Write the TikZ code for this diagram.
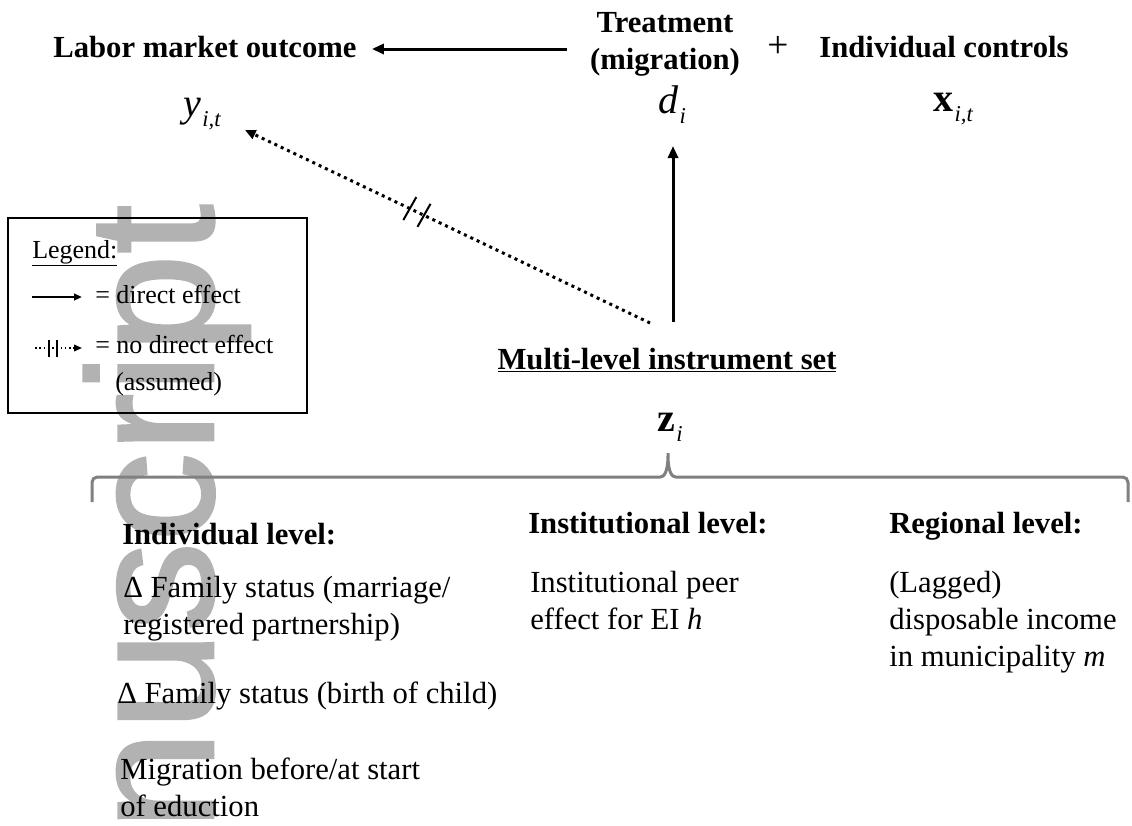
\documentclass[tikz,border=0pt]{standalone}
\usepackage{fontspec}
\setmainfont{Liberation Serif}
\setsansfont{Liberation Sans}
\newfontfamily\wmfont[FakeBold=1.4]{Liberation Sans}
\usetikzlibrary{arrows.meta,calc}
\definecolor{wmgray}{gray}{0.70}
\definecolor{bracegray}{gray}{0.50}
\newcommand\bigf{\fontsize{23}{27.75}\selectfont}
\newcommand\legf{\fontsize{19.5}{27.75}\selectfont}
\newcommand\varf{\fontsize{30}{32}\selectfont}
\newcommand\subf{\fontsize{17}{18}\selectfont}
\newcommand\lnsl[1]{\begin{tabular}[t]{@{}l@{}}#1\end{tabular}}
\newcommand\lnsc[1]{\begin{tabular}[t]{@{}c@{}}#1\end{tabular}}
\newcommand\sbs[1]{\kern1pt\raisebox{-8pt}{\normalfont\subf\itshape #1}}
\begin{document}
\begin{tikzpicture}[x=0.75pt,y=-0.75pt,
  txt/.style={inner sep=0pt,font=\bigf},
  btxt/.style={inner sep=0pt,font=\bfseries\bigf},
  ltxt/.style={inner sep=0pt,font=\legf},
  var/.style={inner sep=0pt,font=\varf},
  arr/.style={line width=2.25pt,-{Triangle[length=9pt,width=7.5pt]}},
  dotarr/.style={line width=2.25pt,dash pattern=on 2.25pt off 3pt,-{Triangle[length=8pt,width=7pt]}},
  legarr/.style={line width=1.5pt,-{Triangle[length=6pt,width=5pt]}},
  legdot/.style={line width=1.2pt,dash pattern=on 1.2pt off 2pt,-{Triangle[length=6pt,width=5pt]}},
  slash/.style={line width=1.5pt},
  brace/.style={line width=2.25pt,draw=bracegray,rounded corners=4pt},
]
\useasboundingbox (0,0) rectangle (1132,825);
% watermark
\begin{scope}
\clip (0,0) rectangle (1132,825);
\node[anchor=base east, rotate=90, inner sep=0pt, text=wmgray,
  font=\wmfont\fontsize{134}{134}\selectfont] (wm) at (213,204) {manuscript};
\end{scope}

% top row
\node[btxt,anchor=base] (labor) at (205,57) {Labor market outcome};
\node[btxt,anchor=base] (treat) at (665,32) {\lnsc{Treatment\\(migration)}};
\node[inner sep=0pt,font=\fontsize{28}{30}\selectfont] (plus) at (778,47) {+};
\node[btxt,anchor=base] (ctrl) at (944,57) {Individual controls};

\node[var,anchor=base west] (yv) at (183,116) {\itshape y\sbs{i,t}};
\node[var,anchor=base west] (dv) at (658,113) {\itshape d\sbs{i}};
\node[var,anchor=base west] (xv) at (933,111) {\bfseries x\sbs{i,t}};

% instrument set
\node[btxt,anchor=base] (title) at (667,369) {\underline{Multi-level instrument set}};
\node[var,anchor=base west] (zv) at (657,431) {\bfseries z\sbs{i}};

% connectors
\draw[arr] ($(treat.base west)+(-23,17)$) -- ($(labor.base east)+(15,-8)$);
\coordinate (vs) at ($(title.base)+(6,-47)$);
\draw[arr,shorten >=24.75pt] (vs) -- (vs |- dv.base);
\coordinate (ds) at ($(title.base)+(-17,-46)$);
\coordinate (de) at (245,130);
\draw[dotarr] (ds) -- (de);
\coordinate (s1) at ($(ds)!0.593!(de)$);
\coordinate (s2) at ($(ds)!0.558!(de)$);
\draw[slash] ($(s1)+(-6.5,11.5)$) -- ($(s1)+(6.5,-11.5)$);
\draw[slash] ($(s2)+(-6.5,11.5)$) -- ($(s2)+(6.5,-11.5)$);

% brace
\draw[brace] (92,502) -- (92,477) -- (655,477)
  .. controls (664,477) and (668,472) .. (668,450)
  .. controls (668,472) and (672,477) .. (681,477)
  -- (1128,477) -- (1128,502);

% columns
\node[btxt,anchor=base west] (indh) at (122,544) {Individual level:};
\node[txt,anchor=base west] (ind1) at (123,597) {\lnsl{Δ Family status (marriage/\\registered partnership)}};
\node[txt,anchor=base west] (ind2) at (117,703) {Δ Family status (birth of child)};
\node[txt,anchor=base west] (ind3) at (120,779) {\lnsl{Migration before/at start\\of eduction}};

\node[btxt,anchor=base west] (insh) at (528,533) {Institutional level:};
\node[txt,anchor=base west] (ins1) at (530,592) {\lnsl{Institutional peer\\effect for EI \textit{h}}};

\node[btxt,anchor=base west] (regh) at (889,533) {Regional level:};
\node[txt,anchor=base west] (reg1) at (889,592) {\lnsl{(Lagged)\\disposable income\\in municipality \textit{m}}};

% legend
\draw[line width=1pt] (8,218) rectangle (307,413);
\node[ltxt,anchor=base west] (legt) at (32,258) {\underline{Legend:}};
\coordinate (la1) at (32,297);
\coordinate (la2) at (82,297);
\draw[legarr] (la1) -- (la2);
\node[ltxt,anchor=base west] (leg1) at (95,303) {= direct effect};
\coordinate (lb1) at (35,348);
\coordinate (lb2) at (82,348);
\draw[legdot] (lb1) -- (lb2);
\draw[line width=1pt] (49,340) -- (49,357) (57,340) -- (57,357);
\node[ltxt,anchor=base west] (leg2) at (95,353) {\lnsl{= no direct effect\\\hspace*{15pt}(assumed)}};
\end{tikzpicture}
\end{document}
